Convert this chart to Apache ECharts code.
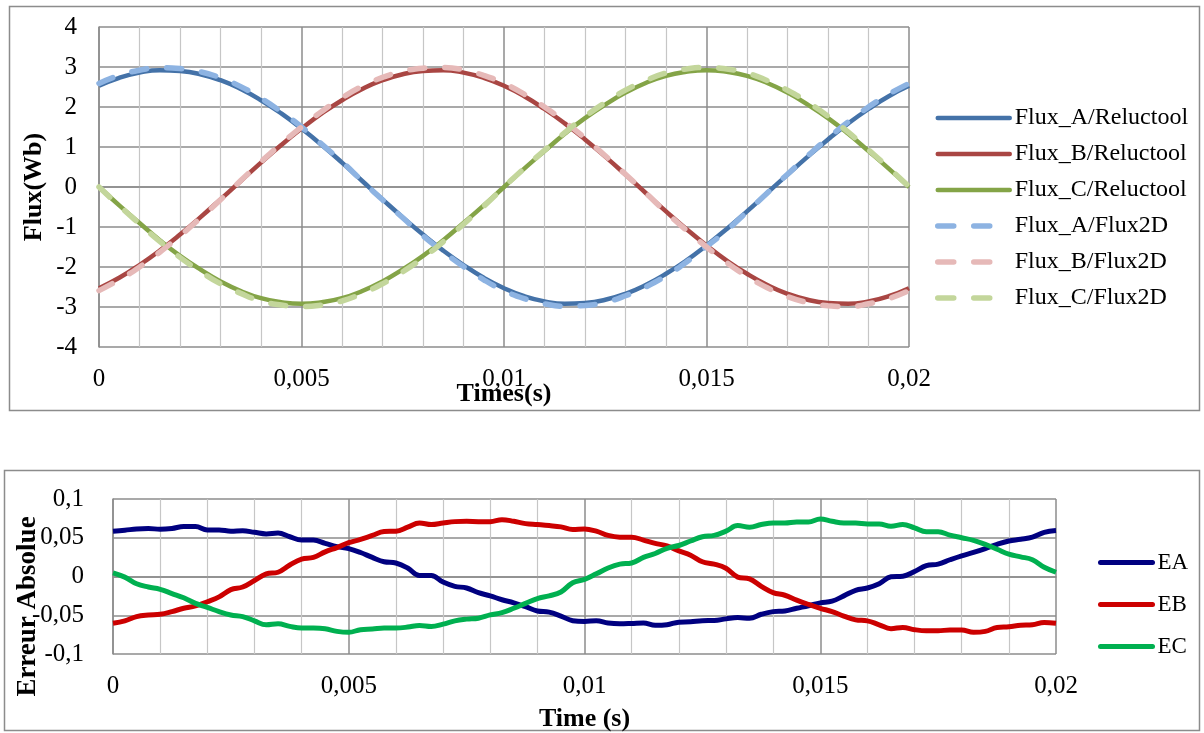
<!DOCTYPE html>
<html><head><meta charset="utf-8">
<script src="https://cdn.jsdelivr.net/npm/echarts@6/dist/echarts.min.js"></script>
<style>html,body{margin:0;padding:0;background:#fff}#c{width:1204px;height:733px}</style>
</head><body><div id="c"></div><script>
// ---- Top chart: flux (Wb) vs time (s) ----
const timeTop = [0,0.0005,0.001,0.0015,0.002,0.0025,0.003,0.0035,0.004,0.0045,0.005,0.0055,0.006,0.0065,0.007,0.0075,0.008,0.0085,0.009,0.0095,0.01,0.0105,0.011,0.0115,0.012,0.0125,0.013,0.0135,0.014,0.0145,0.015,0.0155,0.016,0.0165,0.017,0.0175,0.018,0.0185,0.019,0.0195,0.02];
const fluxA_Reluctool = [2.53,2.73,2.86,2.92,2.90,2.82,2.67,2.45,2.17,1.84,1.46,1.05,0.61,0.15,-0.31,-0.76,-1.19,-1.59,-1.95,-2.27,-2.53,-2.73,-2.86,-2.92,-2.90,-2.82,-2.67,-2.45,-2.17,-1.84,-1.46,-1.05,-0.61,-0.15,0.31,0.76,1.19,1.59,1.95,2.27,2.53];
const fluxB_Reluctool = [-2.53,-2.27,-1.95,-1.59,-1.19,-0.76,-0.31,0.15,0.61,1.05,1.46,1.84,2.17,2.45,2.67,2.82,2.90,2.92,2.86,2.73,2.53,2.27,1.95,1.59,1.19,0.76,0.31,-0.15,-0.61,-1.05,-1.46,-1.84,-2.17,-2.45,-2.67,-2.82,-2.90,-2.92,-2.86,-2.73,-2.53];
const fluxC_Reluctool = [0,-0.46,-0.90,-1.33,-1.72,-2.06,-2.36,-2.60,-2.78,-2.88,-2.92,-2.88,-2.78,-2.60,-2.36,-2.06,-1.72,-1.33,-0.90,-0.46,0,0.46,0.90,1.33,1.72,2.06,2.36,2.60,2.78,2.88,2.92,2.88,2.78,2.60,2.36,2.06,1.72,1.33,0.90,0.46,0];
const fluxA_Flux2D = [2.59,2.79,2.92,2.98,2.96,2.88,2.73,2.51,2.22,1.88,1.50,1.07,0.63,0.15,-0.32,-0.77,-1.22,-1.62,-1.99,-2.32,-2.59,-2.79,-2.92,-2.98,-2.96,-2.88,-2.72,-2.50,-2.22,-1.88,-1.49,-1.08,-0.62,-0.15,0.32,0.78,1.22,1.63,2.00,2.32,2.59];
const fluxB_Flux2D = [-2.59,-2.32,-2.00,-1.63,-1.22,-0.78,-0.32,0.16,0.63,1.08,1.50,1.89,2.23,2.52,2.74,2.89,2.97,2.99,2.93,2.79,2.59,2.32,2.00,1.63,1.22,0.78,0.32,-0.15,-0.63,-1.08,-1.50,-1.89,-2.23,-2.52,-2.74,-2.89,-2.97,-2.99,-2.92,-2.79,-2.59];
const fluxC_Flux2D = [0,-0.47,-0.92,-1.36,-1.76,-2.11,-2.42,-2.66,-2.85,-2.95,-2.99,-2.95,-2.85,-2.66,-2.42,-2.12,-1.77,-1.37,-0.93,-0.48,0,0.47,0.92,1.36,1.76,2.11,2.42,2.66,2.85,2.95,2.99,2.95,2.85,2.66,2.42,2.12,1.77,1.37,0.93,0.48,0.01];
const topNames = ['Flux_A/Reluctool','Flux_B/Reluctool','Flux_C/Reluctool','Flux_A/Flux2D','Flux_B/Flux2D','Flux_C/Flux2D'];

// ---- Bottom chart: absolute error vs time (s) ----
const timeErr = [0,0.00025,0.0005,0.00075,0.001,0.00125,0.0015,0.00175,0.002,0.00225,0.0025,0.00275,0.003,0.00325,0.0035,0.00375,0.004,0.00425,0.0045,0.00475,0.005,0.00525,0.0055,0.00575,0.006,0.00625,0.0065,0.00675,0.007,0.00725,0.0075,0.00775,0.008,0.00825,0.0085,0.00875,0.009,0.00925,0.0095,0.00975,0.01,0.01025,0.0105,0.01075,0.011,0.01125,0.0115,0.01175,0.012,0.01225,0.0125,0.01275,0.013,0.01325,0.0135,0.01375,0.014,0.01425,0.0145,0.01475,0.015,0.01525,0.0155,0.01575,0.016,0.01625,0.0165,0.01675,0.017,0.01725,0.0175,0.01775,0.018,0.01825,0.0185,0.01875,0.019,0.01925,0.0195,0.01975,0.02];
const EA = [0.0585,0.0597,0.0614,0.0619,0.061,0.062,0.0645,0.0645,0.060,0.060,0.0585,0.059,0.057,0.055,0.056,0.0513,0.047,0.047,0.0428,0.0386,0.036,0.031,0.0246,0.019,0.0174,0.011,0.0013,0.0013,-0.0072,-0.0127,-0.0148,-0.0208,-0.025,-0.030,-0.034,-0.039,-0.0445,-0.046,-0.051,-0.057,-0.058,-0.057,-0.060,-0.061,-0.0606,-0.060,-0.063,-0.0623,-0.0589,-0.0585,-0.057,-0.0568,-0.0547,-0.053,-0.0538,-0.0487,-0.0453,-0.0445,-0.041,-0.0377,-0.034,-0.0318,-0.025,-0.0178,-0.0148,-0.0093,-0.0004,0.0004,0.0064,0.014,0.016,0.0216,0.0267,0.031,0.036,0.0415,0.0458,0.048,0.0508,0.057,0.0593];
const EB = [-0.0602,-0.0572,-0.0517,-0.0496,-0.0487,-0.0453,-0.041,-0.038,-0.0326,-0.0263,-0.017,-0.0136,-0.0051,0.0034,0.0055,0.0148,0.0225,0.0246,0.0318,0.0373,0.0436,0.0479,0.053,0.058,0.0585,0.0636,0.069,0.067,0.069,0.0708,0.0712,0.0708,0.0708,0.0733,0.0712,0.0682,0.067,0.0657,0.064,0.0606,0.0614,0.0585,0.053,0.0508,0.0508,0.047,0.0428,0.0394,0.033,0.0275,0.019,0.016,0.0106,-0.0008,-0.003,-0.0127,-0.0208,-0.0242,-0.0305,-0.036,-0.041,-0.0453,-0.051,-0.056,-0.0572,-0.0623,-0.0674,-0.0657,-0.0686,-0.070,-0.070,-0.069,-0.069,-0.072,-0.0708,-0.0657,-0.0648,-0.063,-0.0623,-0.0593,-0.0602];
const EC = [0.0047,-0.0008,-0.0093,-0.0136,-0.0165,-0.022,-0.0275,-0.0347,-0.0398,-0.0453,-0.0496,-0.0517,-0.0572,-0.0623,-0.061,-0.0644,-0.0665,-0.0665,-0.0674,-0.0708,-0.072,-0.0686,-0.0678,-0.0665,-0.0665,-0.0653,-0.0631,-0.0644,-0.0614,-0.0572,-0.055,-0.0538,-0.0496,-0.0466,-0.041,-0.0347,-0.0284,-0.025,-0.020,-0.008,-0.0038,0.0034,0.011,0.016,0.0174,0.0246,0.0297,0.0364,0.040,0.0458,0.0513,0.053,0.0585,0.0657,0.0636,0.067,0.069,0.069,0.0703,0.0703,0.0742,0.0712,0.069,0.069,0.0678,0.0678,0.0648,0.067,0.0627,0.0576,0.0576,0.0534,0.050,0.0466,0.0415,0.0352,0.0288,0.0254,0.0216,0.0119,0.0055];
const errNames = ['EA','EB','EC'];

const FONT = '"Liberation Serif","Times New Roman",serif';
const DARK = '#8c8c8c', LIGHT = '#c6c6c6';
const fmt = v => String(+(+v).toFixed(5)).replace('.', ',');
const zip = (xs, ys) => xs.map((x, i) => [x, ys[i]]);

function xAxisCfg(grid, name, gap) {
  return {
    gridIndex: grid, type: 'value', min: 0, max: 0.02, interval: 0.005,
    axisLine: {show: true, lineStyle: {color: DARK, width: 1.5}},
    axisTick: {show: false},
    splitLine: {show: true, lineStyle: {color: DARK, width: 1.5}},
    minorTick: {show: false, splitNumber: 5},
    minorSplitLine: {show: true, lineStyle: {color: LIGHT, width: 1.2}},
    axisLabel: {formatter: fmt, fontFamily: FONT, fontSize: 25, color: '#000', margin: 20},
    name: name, nameLocation: 'middle', nameGap: gap, nameMoveOverlap: false,
    nameTextStyle: {fontFamily: FONT, fontWeight: 'bold', fontSize: 26, color: '#000'}
  };
}

const solid = (name, data, color) => ({
  name, type: 'line', xAxisIndex: 0, yAxisIndex: 0, data, smooth: true,
  symbol: 'none', showSymbol: false, color,
  lineStyle: {color, width: 4.5}
});
const dashed = (name, data, color) => ({
  name, type: 'line', xAxisIndex: 0, yAxisIndex: 0, data, smooth: true,
  symbol: 'none', showSymbol: false, color,
  lineStyle: {color, width: 5.5, type: [15, 20], cap: 'round'}
});
const errLine = (name, data, color) => ({
  name, type: 'line', xAxisIndex: 1, yAxisIndex: 1, data, smooth: 0.4,
  symbol: 'none', showSymbol: false, color,
  lineStyle: {color, width: 5}
});

const legendItem = (name, width, dash) => ({
  name,
  itemStyle: {opacity: 0},
  lineStyle: dash ? {width: width, type: [16, 20], cap: 'round'} : {width: width, cap: 'round'}
});

const chart = echarts.init(document.getElementById('c'), null, {renderer: 'canvas'});
chart.setOption({
  animation: false,
  backgroundColor: '#fff',
  graphic: [
    {type: 'rect', shape: {x: 9.5, y: 6.5, width: 1190, height: 404}, style: {fill: null, stroke: '#8c8c8c', lineWidth: 1.5}, z: -1},
    {type: 'rect', shape: {x: 4.5, y: 470.5, width: 1195, height: 260}, style: {fill: null, stroke: '#8c8c8c', lineWidth: 1.5}, z: -1}
  ],
  grid: [
    {left: 99, top: 27, width: 810, height: 320},
    {left: 113, top: 499, width: 943, height: 157}
  ],
  xAxis: [xAxisCfg(0, 'Times(s)', 34), xAxisCfg(1, 'Time (s)', 52)],
  yAxis: [
    {gridIndex: 0, type: 'value', min: -4, max: 4, interval: 1,
     axisLine: {show: true, lineStyle: {color: DARK, width: 1.5}},
     axisTick: {show: false},
     splitLine: {show: true, lineStyle: {color: DARK, width: 1.5}},
     axisLabel: {fontFamily: FONT, fontSize: 25, color: '#000', margin: 22},
     name: 'Flux(Wb)', nameLocation: 'middle', nameGap: 52, nameMoveOverlap: false,
     nameTextStyle: {fontFamily: FONT, fontWeight: 'bold', fontSize: 26, color: '#000'}},
    {gridIndex: 1, type: 'value', min: -0.1, max: 0.1, interval: 0.05,
     axisLine: {show: true, lineStyle: {color: DARK, width: 1.5}},
     axisTick: {show: false},
     splitLine: {show: true, lineStyle: {color: DARK, width: 1.5}},
     axisLabel: {formatter: fmt, fontFamily: FONT, fontSize: 25, color: '#000', margin: 29},
     name: 'Erreur Absolue', nameLocation: 'middle', nameGap: 71, nameMoveOverlap: false,
     nameTextStyle: {fontFamily: FONT, fontWeight: 'bold', fontSize: 27, color: '#000', padding: [0, 60, 0, 0]}}
  ],
  legend: [
    {orient: 'vertical', left: 935, top: 106, padding: 0, itemWidth: 72, itemHeight: 14, itemGap: 12,
     data: topNames.map((n, i) => legendItem(n, i < 3 ? 4.5 : 5.5, i >= 3)),
     textStyle: {fontFamily: FONT, fontSize: 24, color: '#000'}},
    {orient: 'vertical', left: 1098, top: 551, padding: 0, itemWidth: 52, itemHeight: 14, itemGap: 19,
     data: errNames.map(n => legendItem(n, 5, false)),
     textStyle: {fontFamily: FONT, fontSize: 23, color: '#000'}}
  ],
  series: [
    solid(topNames[0], zip(timeTop, fluxA_Reluctool), '#4472A8'),
    solid(topNames[1], zip(timeTop, fluxB_Reluctool), '#A94643'),
    solid(topNames[2], zip(timeTop, fluxC_Reluctool), '#84A447'),
    dashed(topNames[3], zip(timeTop, fluxA_Flux2D), '#8DB3E2'),
    dashed(topNames[4], zip(timeTop, fluxB_Flux2D), '#E6B9B8'),
    dashed(topNames[5], zip(timeTop, fluxC_Flux2D), '#C3D69B'),
    errLine('EA', zip(timeErr, EA), '#000080'),
    errLine('EB', zip(timeErr, EB), '#CC0000'),
    errLine('EC', zip(timeErr, EC), '#00B050')
  ]
});
</script></body></html>
